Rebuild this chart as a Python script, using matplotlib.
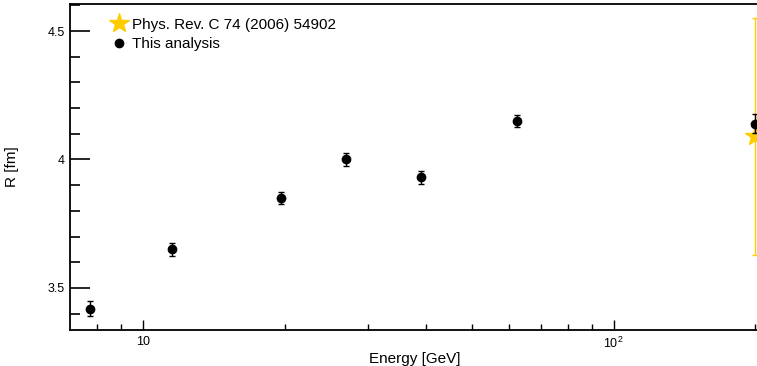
import numpy as np
import matplotlib
matplotlib.use("Agg")
import matplotlib.pyplot as plt
from matplotlib.lines import Line2D
from matplotlib.ticker import FixedLocator, NullFormatter, MultipleLocator

plt.rcParams.update({
    "font.family": ["Liberation Sans", "DejaVu Sans"],
    "font.size": 9,
    "mathtext.fontset": "custom",
    "mathtext.rm": "Liberation Sans",
})

# this analysis
energy = [7.7, 11.5, 19.6, 27, 39, 62.4, 200]
radius = [3.42, 3.65, 3.85, 4.00, 3.93, 4.15, 4.14]
radius_err = [0.03, 0.025, 0.025, 0.025, 0.025, 0.025, 0.037]

# Phys. Rev. C 74 (2006) 54902
ref_energy = [200]
ref_radius = [4.09]
ref_err_lo = [0.46]
ref_err_hi = [0.46]

GOLD = "#ffcc00"

fig = plt.figure(figsize=(7.57, 3.66), dpi=100)
ax = fig.add_axes([0.0925, 0.098, 0.912, 0.891])

ax.errorbar(ref_energy, ref_radius, yerr=[ref_err_lo, ref_err_hi], fmt="*",
            color=GOLD, ms=15, elinewidth=1, capsize=2, capthick=1, zorder=2)
ax.errorbar(energy, radius, yerr=radius_err, fmt="o", color="black",
            ms=6, elinewidth=1, capsize=2, capthick=1, zorder=3)

ax.set_xscale("log")
ax.set_xlim(7, 205)
ax.set_ylim(3.336, 4.605)

ax.xaxis.set_major_locator(FixedLocator([10, 100]))
ax.xaxis.set_minor_locator(FixedLocator([8, 9, 20, 30, 40, 50, 60, 70, 80, 90, 200]))
ax.xaxis.set_minor_formatter(NullFormatter())
ax.set_xticklabels(["10", r"$10^{2}$"])
ax.yaxis.set_major_locator(FixedLocator([3.5, 4.0, 4.5]))
ax.yaxis.set_minor_locator(MultipleLocator(0.1))
ax.set_yticklabels(["3.5", "4", "4.5"])

# ROOT-like inward ticks (lengths in points)
ax.tick_params(axis="both", which="both", direction="in", labelsize=9)
ax.tick_params(axis="y", which="major", length=14.4, width=1.2, pad=4)
ax.tick_params(axis="y", which="minor", length=7.2, width=1.2)
ax.tick_params(axis="x", which="major", length=7.2, width=1, pad=4)
ax.tick_params(axis="x", which="minor", length=4.3, width=1)
ax.spines["right"].set_visible(False)
for s in ["left", "bottom", "top"]:
    ax.spines[s].set_linewidth(1.3)

ax.set_xlabel("Energy [GeV]", fontsize=11, labelpad=1)
ax.set_ylabel("R [fm]", fontsize=11, labelpad=20)

handles = [
    Line2D([], [], marker="*", color=GOLD, ls="none", ms=15),
    Line2D([], [], marker="o", color="black", ls="none", ms=6),
]
labels = ["Phys. Rev. C 74 (2006) 54902", "This analysis"]
ax.legend(handles, labels, loc="upper left", bbox_to_anchor=(0.035, 1.0),
          frameon=False, fontsize=11, handletextpad=0.1, labelspacing=0.35,
          handlelength=1.5)

fig.savefig("out.png", dpi=100, facecolor="white")
